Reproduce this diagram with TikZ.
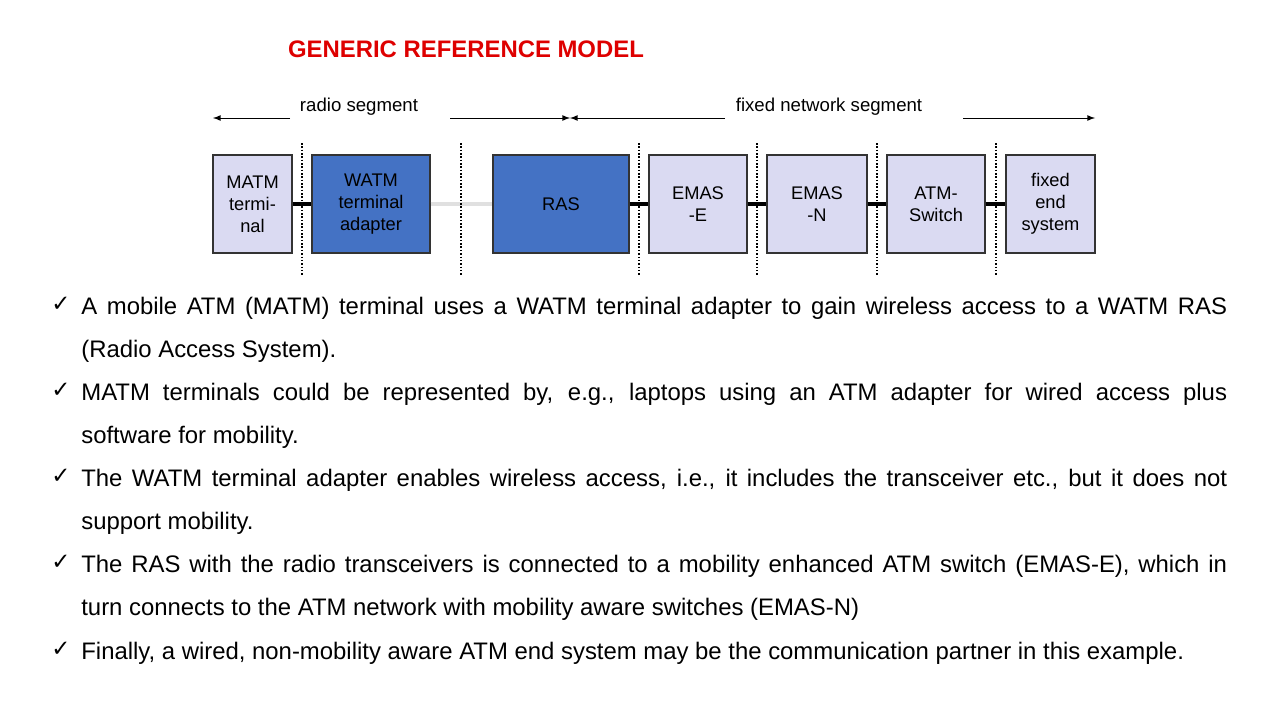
\documentclass[tikz,border=0pt]{standalone}
\usepackage{fontspec}
\setmainfont{Liberation Sans}
\newfontfamily\symfont{DejaVu Sans}
\definecolor{lavender}{RGB}{218,218,242}
\definecolor{atmblue}{RGB}{68,114,196}
\definecolor{titlered}{RGB}{222,0,0}
\begin{document}
\begin{tikzpicture}[x=0.02cm,y=-0.02cm]
    \tikzstyle{box}=[draw=black!80,line width=0.6pt,inner sep=0pt,align=center,font=\fontsize{10.4}{12.5}\selectfont]
    \tikzstyle{light box}=[box,fill=lavender]
    \tikzstyle{dark box}=[box,fill=atmblue]
    \tikzstyle{link}=[line width=2.2pt]
    \tikzstyle{radio link}=[line width=2.2pt,draw=black!12]
    \tikzstyle{sep}=[densely dotted,line width=0.9pt]
    \tikzstyle{seg}=[-latex,line width=0.5pt]
    \tikzstyle{bullet}=[anchor=north west,inner sep=0pt,text width=22.92cm,align=justify,font=\fontsize{13.6}{24.4}\selectfont]
    \tikzstyle{tick}=[anchor=north west,inner sep=0pt,font=\symfont\fontsize{13}{24.4}\selectfont]

    \useasboundingbox (0,0) rectangle (1280,720);

    % Title
    \node[font=\bfseries\fontsize{13.6}{15}\selectfont,text=titlered] (title) at (466,49) {GENERIC REFERENCE MODEL};

    % Draw the boxes
    \node[light box,minimum width=1.58cm,minimum height=1.96cm] (matm) at (252.5,204) {MATM\\termi-\\nal};
    \node[dark box,minimum width=2.36cm,minimum height=1.96cm] (watm) at (371,204) {WATM\\terminal\\adapter};
    \node[dark box,minimum width=2.72cm,minimum height=1.96cm] (ras) at (561,204) {RAS};
    \node[light box,minimum width=1.96cm,minimum height=1.96cm] (emase) at (698,204) {EMAS\\-E};
    \node[light box,minimum width=2.0cm,minimum height=1.96cm] (emasn) at (817,204) {EMAS\\-N};
    \node[light box,minimum width=1.96cm,minimum height=1.96cm] (sw) at (936,204) {ATM-\\Switch};
    \node[light box,minimum width=1.78cm,minimum height=1.96cm] (fes) at (1050.5,204) {fixed\\end\\system};

    % Connect the boxes
    \draw[link] (matm) -- (watm);
    \draw[radio link] (watm) -- (ras);
    \draw[link] (ras) -- (emase);
    \draw[link] (emase) -- (emasn);
    \draw[link] (emasn) -- (sw);
    \draw[link] (sw) -- (fes);

    % Segment borders
    \foreach \x in {302,461,639,757,877,996}
        \draw[sep] (\x,143) -- (\x,275);

    % Annotate the segments
    \node[font=\fontsize{10.6}{12}\selectfont] (radio) at (359,107) {radio segment};
    \node[font=\fontsize{10.6}{12}\selectfont] (fixed) at (829,107) {fixed network segment};
    \coordinate (r-l) at (213,118);
    \coordinate (r-m) at (570,118);
    \coordinate (f-r) at (1095,118);
    \draw[seg] (290,118) -- (r-l);
    \draw[seg] (450,118) -- (r-m);
    \draw[seg] (725,118) -- (r-m);
    \draw[seg] (963,118) -- (f-r);

    % Bullet list
    \foreach \y/\txt in {
        297/{A mobile ATM (MATM) terminal uses a WATM terminal adapter to gain wireless access to a WATM RAS\linebreak (Radio Access System).},
        383/{MATM terminals could be represented by, e.g., laptops using an ATM adapter for wired access plus\linebreak software for mobility.},
        469/{The WATM terminal adapter enables wireless access, i.e., it includes the transceiver etc., but it does not support mobility.},
        555/{The RAS with the radio transceivers is connected to a mobility enhanced ATM switch (EMAS-E), which in\linebreak turn connects to the ATM network with mobility aware switches (EMAS-N)},
        642/{Finally, a wired, non-mobility aware ATM end system may be the communication partner in this example.}}
    {
        \node[tick] at (51,\y) {✓};
        \node[bullet] at (81,\y) {\txt};
    }
\end{tikzpicture}
\end{document}
